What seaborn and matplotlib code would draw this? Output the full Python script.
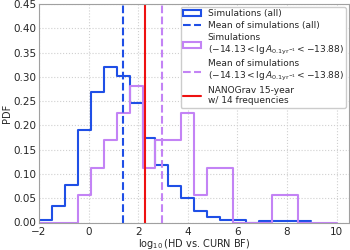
import numpy as np
import pandas as pd
import seaborn as sns
import matplotlib
matplotlib.use('Agg')
import matplotlib.pyplot as plt
from matplotlib.patches import Patch
from matplotlib.lines import Line2D

# bin edges shared by both histograms (23 bins from -2 to 10)
edges = np.linspace(-2, 10, 24)

# density heights
all_pdf = [0.005, 0.034, 0.077, 0.191, 0.268, 0.320, 0.301, 0.246, 0.174, 0.119,
           0.075, 0.050, 0.023, 0.012, 0.006, 0.006, 0.0, 0.003, 0.003, 0.003, 0.003]
sub_counts = [0, 0, 0, 1, 2, 3, 4, 5, 2, 3, 3, 4, 1, 2, 2, 0, 0, 0, 1, 1, 0, 0, 0]

mean_all = 1.40
mean_sub = 2.97
nanograv = 2.29

blue = '#1f4fe6'
purple = '#c383f5'
red = '#ee1111'

sub_label = r'($-14.13 < \lg A_{0.1\mathrm{yr}^{-1}} < -13.88$)'

sns.set_style('whitegrid', {'grid.linestyle': ':', 'grid.color': '#d0d0d0',
                            'axes.edgecolor': '#a0a0a0'})
plt.rcParams['font.family'] = ['DejaVu Sans']

fig, ax = plt.subplots(figsize=(3.5, 2.5), dpi=100)
fig.subplots_adjust(left=39/350, right=349/350, top=1-4/250, bottom=1-222.5/250)

w = edges[1] - edges[0]
sub_pdf = np.array(sub_counts) / (sum(sub_counts) * w)

e_all = edges[:len(all_pdf) + 1]
df_all = pd.DataFrame({'x': (e_all[:-1] + e_all[1:]) / 2, 'w': all_pdf})
df_sub = pd.DataFrame({'x': (edges[:-1] + edges[1:]) / 2, 'w': sub_pdf})

sns.histplot(data=df_all, x='x', weights='w', bins=list(e_all),
             element='step', fill=False, stat='count', color=blue, lw=1.5, ax=ax)
sns.histplot(data=df_sub, x='x', weights='w', bins=list(edges),
             element='step', fill=False, stat='count', color=purple, lw=1.5, ax=ax)

ax.axvline(mean_all, color=blue, ls='--', lw=1.5)
ax.axvline(mean_sub, color=purple, ls='--', lw=1.5)
ax.axvline(nanograv, color=red, ls='-', lw=1.5)

ax.set_xlim(-2, 10.5)
ax.set_ylim(0, 0.45)
ax.set_xticks([-2, 0, 2, 4, 6, 8, 10])
ax.set_yticks(np.arange(0, 0.451, 0.05))
ax.set_yticklabels([f'{v:.2f}' for v in np.arange(0, 0.451, 0.05)])
ax.tick_params(labelsize=7.5, length=0)
ax.tick_params(axis='x', pad=3)
ax.tick_params(axis='y', pad=2)
ax.set_xlabel(r'$\log_{10}$(HD vs. CURN BF)', fontsize=7, labelpad=0)
ax.set_ylabel('PDF', fontsize=7, labelpad=1)

handles = [
    Patch(facecolor='none', edgecolor=blue, lw=1.5),
    Line2D([], [], color=blue, ls='--', lw=1.5),
    Patch(facecolor='none', edgecolor=purple, lw=1.5),
    Line2D([], [], color=purple, ls='--', lw=1.5),
    Line2D([], [], color=red, lw=1.5),
]
labels = [
    'Simulations (all)',
    'Mean of simulations (all)',
    'Simulations\n' + sub_label,
    'Mean of simulations\n' + sub_label,
    'NANOGrav 15-year\nw/ 14 frequencies',
]
ax.legend(handles, labels, loc='upper right', fontsize=6.5, framealpha=1,
          handlelength=2.0, handletextpad=0.7, labelspacing=0.3,
          borderaxespad=0.3, borderpad=0.3)

fig.savefig('out.png', dpi=100)
